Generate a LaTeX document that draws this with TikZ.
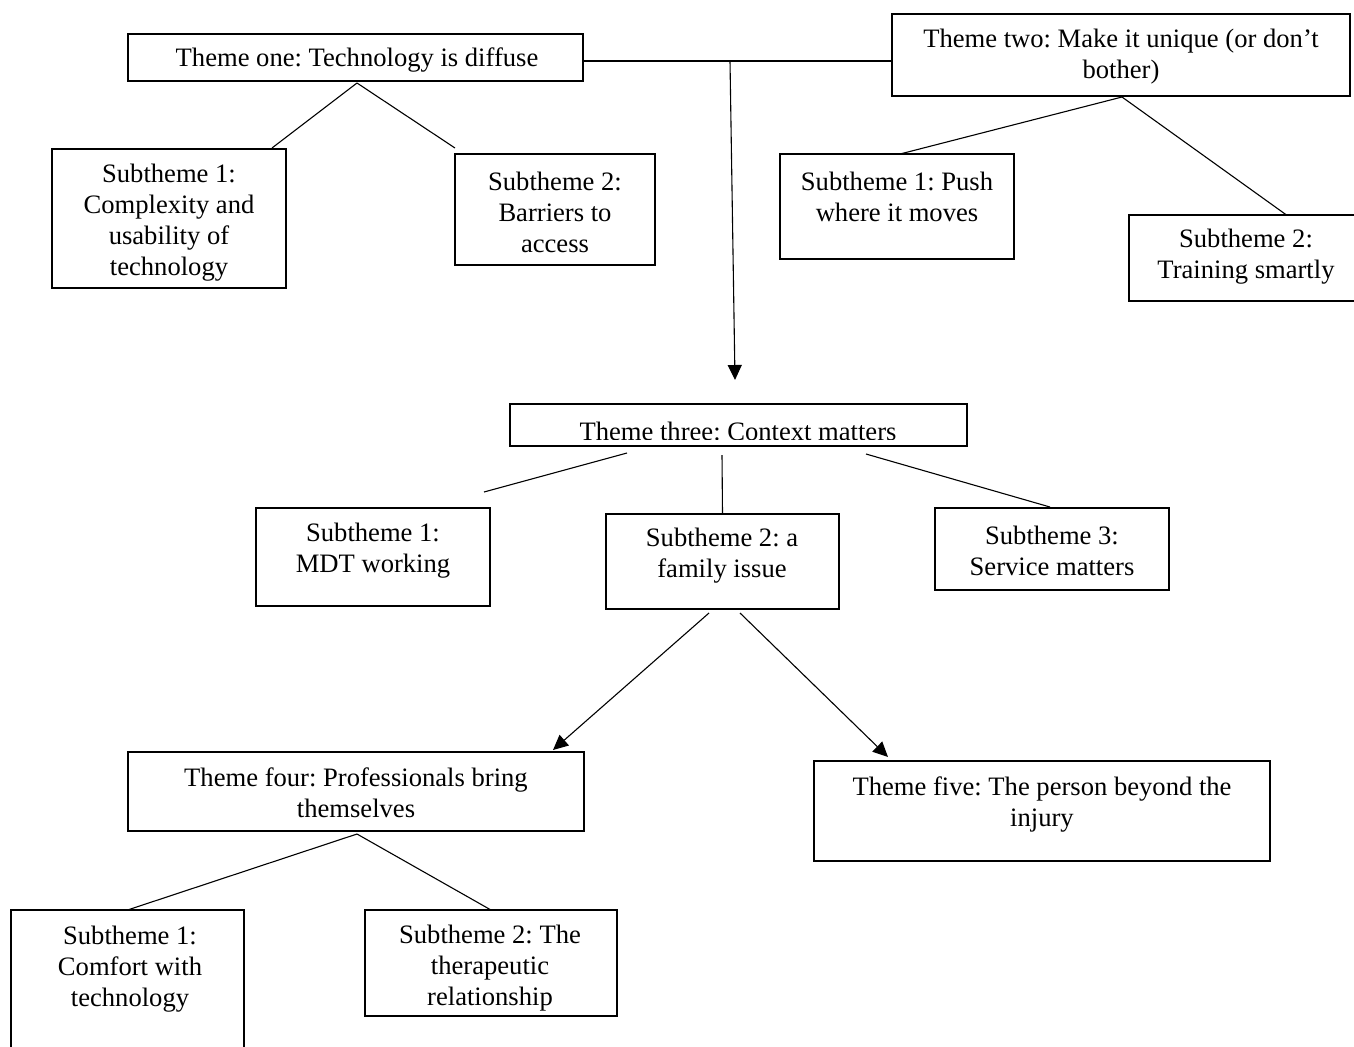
\documentclass[tikz,border=0pt]{standalone}
\usepackage{fontspec}
\setmainfont{Liberation Serif}
\usepackage{tikz}
\usetikzlibrary{calc,arrows.meta}
\frenchspacing

\begin{document}
\begin{tikzpicture}[x=0.5pt,y=-0.5pt,
	box/.style={draw, line width=0.9pt, inner sep=0pt, outer sep=0pt, anchor=north west},
	lbl/.style={align=center, inner sep=0pt, font=\fontsize{13.3}{15.5}\selectfont},
	link/.style={line width=0.55pt},
	arrowlink/.style={line width=0.55pt, -{Triangle[length=7.5pt,width=7pt]}}]
	\useasboundingbox (0,0) rectangle (1354,1046);

	% boxes
	\node[box, minimum width=227.5pt, minimum height=23.5pt] (t1) at (128,34) {};
	\node[box, minimum width=229pt, minimum height=41pt] (t2) at (892,14) {};
	\node[box, minimum width=117pt, minimum height=69.5pt] (s11) at (52,149) {};
	\node[box, minimum width=100pt, minimum height=55.5pt] (s12) at (455,154) {};
	\node[box, minimum width=117pt, minimum height=52.5pt] (s21) at (780,154) {};
	\node[box, minimum width=115.5pt, minimum height=43pt] (s22) at (1129,215) {};
	\node[box, minimum width=228.5pt, minimum height=21pt] (t3) at (510,404) {};
	\node[box, minimum width=117pt, minimum height=49pt] (s31) at (256,508) {};
	\node[box, minimum width=116.5pt, minimum height=47.5pt] (s32) at (606,514) {};
	\node[box, minimum width=117pt, minimum height=41pt] (s33) at (935,508) {};
	\node[box, minimum width=228pt, minimum height=39.5pt] (t4) at (128,752) {};
	\node[box, minimum width=228pt, minimum height=50pt] (t5) at (814,761) {};
	\node[box, minimum width=116.5pt, minimum height=75pt] (s41) at (11,910) {};
	\node[box, minimum width=126pt, minimum height=53pt] (s42) at (365,910) {};

	% texts
	\node[lbl] (t1-t) at (357,60) {Theme one: Technology is diffuse};
	\node[lbl] (t2-t) at (1121,57) {Theme two: Make it unique (or don’t\\bother)};
	\node[lbl] (s11-t) at (169,223) {Subtheme 1:\\Complexity and\\usability of\\technology};
	\node[lbl] (s12-t) at (555,212) {Subtheme 2:\\Barriers to\\access};
	\node[lbl] (s21-t) at (897,197) {Subtheme 1: Push\\where it moves};
	\node[lbl] (s22-t) at (1246,257) {Subtheme 2:\\Training smartly};
	\begin{scope}
		\clip (t3.north west) rectangle ($(t3.south east)+(0,-7)$);
		\node[lbl, anchor=base] (t3-t) at (738,440) {Theme three: Context matters};
	\end{scope}
	\node[lbl] (s31-t) at (373,551) {Subtheme 1:\\MDT working};
	\node[lbl] (s32-t) at (722,556) {Subtheme 2: a\\family issue};
	\node[lbl] (s33-t) at (1052,551) {Subtheme 3:\\Service matters};
	\node[lbl] (t4-t) at (356,793) {Theme four: Professionals bring\\themselves};
	\node[lbl] (t5-t) at (1042,804) {Theme five: The person beyond the\\injury};
	\node[lbl] (s41-t) at (130,969) {Subtheme 1:\\Comfort with\\technology};
	\node[lbl] (s42-t) at (490,968) {Subtheme 2: The\\therapeutic\\relationship};

	% connectors
	\coordinate (j) at (730,61);
	\coordinate (t3in) at ($(t3.north)+(-3.5,-24)$);
	\draw[link] (t1.east |- j) -- (t2.west |- j);
	\draw[arrowlink] (j) -- (t3in);

	\draw[link] ($(t1.south)+(1.5,2)$) -- ($(s11.north east)+(-14,-1)$);
	\draw[link] ($(t1.south)+(1.5,2)$) -- ($(s12.north west)+(0,-6)$);

	\draw[link] ($(t2.south)+(1,1)$) -- ($(s21.north)+(3,0)$);
	\draw[link] ($(t2.south)+(1,1)$) -- ($(s22.north)+(42,0)$);

	\draw[link] ($(t3.south)+(-111.5,7)$) -- ($(s31.north east)+(-6,-16)$);
	\draw[link] ($(t3.south)+(-16.5,9)$) -- (s32.north);
	\draw[link] ($(t3.south)+(127.5,8)$) -- ($(s33.north)+(-2,-1)$);

	\draw[arrowlink] ($(s32.south)+(-13.5,4)$) -- ($(t4.north east)+(-31,-2)$);
	\draw[arrowlink] ($(s32.south)+(17.5,4)$) -- ($(t5.north west)+(74,-4)$);

	\draw[link] ($(t4.south)+(1,3)$) -- (s41.north);
	\draw[link] ($(t4.south)+(1,3)$) -- (s42.north);
\end{tikzpicture}
\end{document}
